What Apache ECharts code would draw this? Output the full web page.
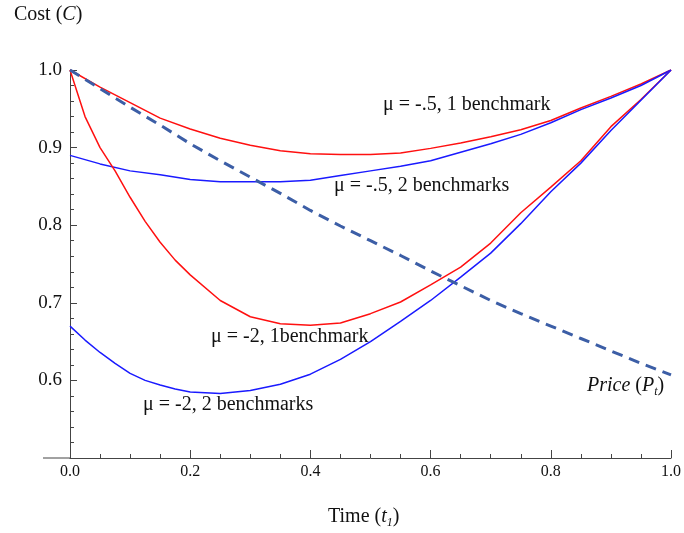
<!DOCTYPE html>
<html>
<head>
<meta charset="utf-8">
<script src="https://cdn.jsdelivr.net/npm/echarts@6/dist/echarts.min.js"></script>
<style>
  html, body { margin: 0; padding: 0; background: #fff; }
  #chart { width: 684px; height: 533px; }
</style>
</head>
<body>
<div id="chart"></div>
<script>
// x positions (time)
const tGrid = [0, 0.05, 0.1, 0.15, 0.2, 0.25, 0.3, 0.35, 0.4, 0.45, 0.5,
  0.55, 0.6, 0.65, 0.7, 0.75, 0.8, 0.85, 0.9, 0.95, 1.0]
const tFine = [0, 0.025, 0.05, 0.075, 0.1, 0.125, 0.15, 0.175, 0.2, 0.25, 0.3, 0.35, 0.4, 0.45, 0.5,
  0.55, 0.6, 0.65, 0.7, 0.75, 0.8, 0.85, 0.9, 0.95, 1.0]

// mu = -.5, 1 benchmark (red)
const mu05one = [1.0, 0.978, 0.958, 0.938, 0.924, 0.912, 0.903, 0.896, 0.892, 0.891, 0.891,
  0.893, 0.899, 0.906, 0.914, 0.923, 0.935, 0.951, 0.966, 0.982, 1.0]
// mu = -.5, 2 benchmarks (blue)
const mu05two = [0.890, 0.879, 0.870, 0.865, 0.859, 0.856, 0.856, 0.856, 0.858, 0.864, 0.870,
  0.876, 0.883, 0.894, 0.905, 0.917, 0.932, 0.949, 0.964, 0.980, 1.0]
// mu = -2, 1 benchmark (red)
const mu2one = [1.0, 0.94, 0.90, 0.87, 0.836, 0.805, 0.778, 0.755, 0.736, 0.703, 0.682, 0.673, 0.671, 0.674, 0.686,
  0.701, 0.723, 0.746, 0.777, 0.816, 0.849, 0.883, 0.927, 0.962, 1.0]
// mu = -2, 2 benchmarks (blue)
const mu2two = [0.670, 0.652, 0.636, 0.622, 0.609, 0.600, 0.594, 0.589, 0.585, 0.583, 0.587, 0.595, 0.608, 0.627, 0.650,
  0.676, 0.703, 0.733, 0.764, 0.802, 0.843, 0.880, 0.922, 0.961, 1.0]
// price P_t (dashed)
const price = [1.0, 0.976, 0.952, 0.929, 0.905, 0.883, 0.862, 0.841, 0.819, 0.799, 0.780,
  0.761, 0.741, 0.722, 0.703, 0.686, 0.670, 0.654, 0.638, 0.622, 0.607]

const xTicks = [0, 0.2, 0.4, 0.6, 0.8, 1.0]
const yTicks = [0.6, 0.7, 0.8, 0.9, 1.0]

const font = '"Liberation Serif", "Times New Roman", serif'
const zip = (xs, ys) => xs.map((x, i) => [x, ys[i]])

const myChart = echarts.init(document.getElementById('chart'))

function line(name, xs, ys, color, dashed) {
  return {
    name: name,
    type: 'line',
    data: zip(xs, ys),
    symbol: 'none',
    smooth: false,
    z: dashed ? 3 : 2,
    lineStyle: dashed
      ? { color: '#3c5ea6', width: 3, type: [11, 7] }
      : { color: color, width: 1.5 }
  }
}

const option = {
  backgroundColor: '#fff',
  animation: false,
  grid: { left: 70, right: 9, top: 70, bottom: 75, containLabel: false },
  xAxis: {
    type: 'value',
    min: 0,
    max: 1,
    interval: 0.2,
    axisLine: { show: true, lineStyle: { color: '#444', width: 1 } },
    axisTick: { show: true, inside: true, length: 8, lineStyle: { color: '#444' } },
    minorTick: { show: true, splitNumber: 4, length: 4, lineStyle: { color: '#444' } },
    splitLine: { show: false },
    axisLabel: {
      fontFamily: font, fontSize: 16, color: '#111', margin: 6,
      formatter: v => xTicks.some(t => Math.abs(t - v) < 1e-9) ? v.toFixed(1) : ''
    }
  },
  yAxis: {
    type: 'value',
    min: 0.5,
    max: 1.0,
    interval: 0.1,
    axisLine: { show: true, onZero: false, lineStyle: { color: '#444', width: 1 } },
    axisTick: { show: true, inside: true, length: 7, lineStyle: { color: '#444' } },
    minorTick: { show: true, splitNumber: 5, length: 4, lineStyle: { color: '#444' } },
    splitLine: { show: false },
    axisLabel: {
      fontFamily: font, fontSize: 19, color: '#111', margin: 8,
      formatter: v => yTicks.some(t => Math.abs(t - v) < 1e-9) ? v.toFixed(1) : ''
    }
  },
  graphic: [
    // x axis runs a little past the y axis on the left
    { type: 'line', shape: { x1: 43, y1: 458, x2: 70, y2: 458 }, style: { stroke: '#444', lineWidth: 1 } },
    {
      type: 'text', left: 14, top: 5,
      style: {
        text: 'Cost ({i|C})', fontFamily: font, fontSize: 20, fill: '#111',
        rich: { i: { fontStyle: 'italic', fontFamily: font, fontSize: 20 } }
      }
    },
    {
      type: 'text', left: 328, top: 504,
      style: {
        text: 'Time ({i|t}{s|1})', fontFamily: font, fontSize: 20, fill: '#111', lineHeight: 25,
        rich: {
          i: { fontStyle: 'italic', fontFamily: font, fontSize: 20, lineHeight: 25 },
          s: { fontStyle: 'italic', fontFamily: font, fontSize: 12, lineHeight: 25, verticalAlign: 'bottom' }
        }
      }
    },
    {
      type: 'text', left: 383, top: 95,
      style: { text: 'μ = -.5, 1 benchmark', fontFamily: font, fontSize: 20, fill: '#111' }
    },
    {
      type: 'text', left: 334, top: 176,
      style: { text: 'μ = -.5, 2 benchmarks', fontFamily: font, fontSize: 20, fill: '#111' }
    },
    {
      type: 'text', left: 211, top: 327,
      style: { text: 'μ = -2, 1benchmark', fontFamily: font, fontSize: 20, fill: '#111' }
    },
    {
      type: 'text', left: 143, top: 395,
      style: { text: 'μ = -2, 2 benchmarks', fontFamily: font, fontSize: 20, fill: '#111' }
    },
    {
      type: 'text', left: 587, top: 373,
      style: {
        text: '{i|Price} ({i|P}{s|t})', fontFamily: font, fontSize: 20, fill: '#111', lineHeight: 25,
        rich: {
          i: { fontStyle: 'italic', fontFamily: font, fontSize: 20, lineHeight: 25 },
          s: { fontStyle: 'italic', fontFamily: font, fontSize: 12, lineHeight: 25, verticalAlign: 'bottom' }
        }
      }
    }
  ],
  series: [
    line('mu -.5, 1 benchmark', tGrid, mu05one, '#ff1010'),
    line('mu -.5, 2 benchmarks', tGrid, mu05two, '#1a1aff'),
    line('mu -2, 1 benchmark', tFine, mu2one, '#ff1010'),
    line('mu -2, 2 benchmarks', tFine, mu2two, '#1a1aff'),
    line('Price', tGrid, price, null, true)
  ]
}

myChart.setOption(option)
window.onresize = function () {
  myChart.resize()
}
</script>
</body>
</html>
